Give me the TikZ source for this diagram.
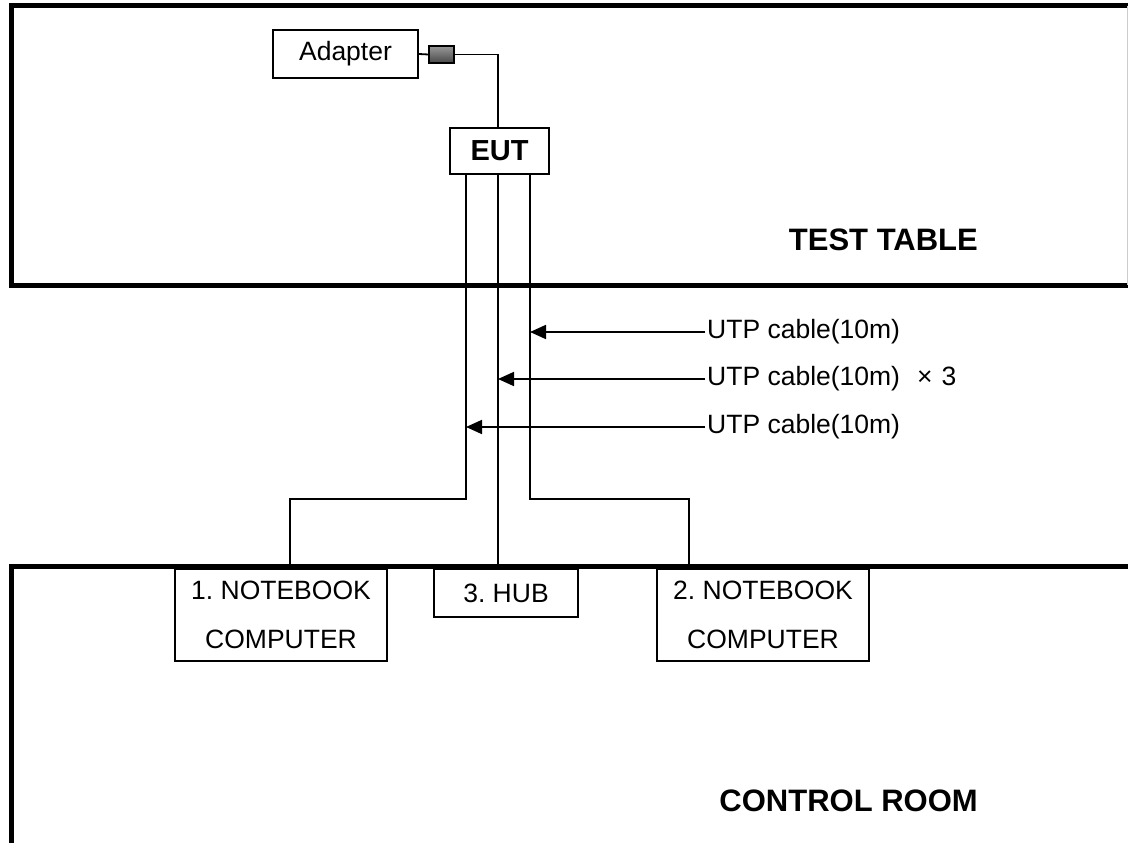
\documentclass[tikz,border=0pt]{standalone}
\usepackage{fontspec}
\setmainfont{Liberation Sans}
\usetikzlibrary{arrows.meta}
\frenchspacing
\begin{document}
\begin{tikzpicture}[x=1pt,y=-1pt,
  box/.style={draw, line width=1.8pt, inner sep=0pt},
  wire/.style={line width=1.8pt},
  wall/.style={line width=5pt},
  lbl/.style={font=\fontsize{26.5}{49}\selectfont\frenchspacing, align=center},
  big/.style={font=\fontsize{31}{36}\selectfont\bfseries, inner sep=0pt},
  arr/.style={wire, -{Triangle[length=16pt,width=14pt]}},
  cablelbl/.style={font=\fontsize{26.5}{30}\selectfont, anchor=west, inner sep=2pt}
]
\useasboundingbox (0,0) rectangle (1128,843);

% walls
\draw[wall] (1128,6) -- (11.5,6) -- (11.5,285) -- (1128,285);
\draw[gray!40, line width=1pt] (1127.5,6) -- (1127.5,285);
\draw[wall] (1128,566.5) -- (11.5,566.5) -- (11.5,843);

% nodes
\node[box, lbl, minimum width=145pt, minimum height=48pt] (adapter) at (345.5,54) {Adapter};
\node[draw, line width=1.2pt, top color=black!40, bottom color=black!72, minimum width=25pt, minimum height=17pt, inner sep=0pt] (plug) at (441.5,54.5) {};
\node[box, minimum width=99pt, minimum height=46pt, font=\fontsize{29}{34}\selectfont\bfseries] (eut) at (499.5,151) {EUT};

\node[box, lbl, minimum width=212pt, minimum height=92pt] (nb1) at (281,615) {1. NOTEBOOK\\COMPUTER};
\node[box, lbl, minimum width=144pt, minimum height=48pt] (hub) at (506,593) {3. HUB};
\node[box, lbl, minimum width=212pt, minimum height=92pt] (nb2) at (763,615) {2. NOTEBOOK\\COMPUTER};

\node[big, anchor=base east] (tt) at (978,250) {TEST TABLE};
\node[big, anchor=base east] (cr) at (978,811) {CONTROL ROOM};

% wires
\draw[wire] (adapter.east) -- (plug.west);
\draw[wire] (plug.east) -| ([xshift=-1.5pt]eut.north);
\draw[wire] ([xshift=-33.5pt]eut.south) |- (290,499) -- ([xshift=9pt]nb1.north);
\draw[wire] ([xshift=-1.5pt]eut.south) -- ([xshift=-8pt]hub.north);
\draw[wire] ([xshift=30.5pt]eut.south) |- (689,499) -- ([xshift=-74pt]nb2.north);

% cable labels and arrows
\node[cablelbl] (u1) at (705,332) {UTP cable(10m)};
\node[cablelbl] (u2) at (705,379) {UTP cable(10m)\hspace{17pt}×\hspace{9pt}3};
\node[cablelbl] (u3) at (705,427) {UTP cable(10m)};
\coordinate (t1) at (530,332);
\coordinate (t2) at (498,379);
\coordinate (t3) at (466,427);
\draw[arr] (u1.west) -- (t1);
\draw[arr] (u2.west) -- (t2);
\draw[arr] (u3.west) -- (t3);
\end{tikzpicture}
\end{document}
